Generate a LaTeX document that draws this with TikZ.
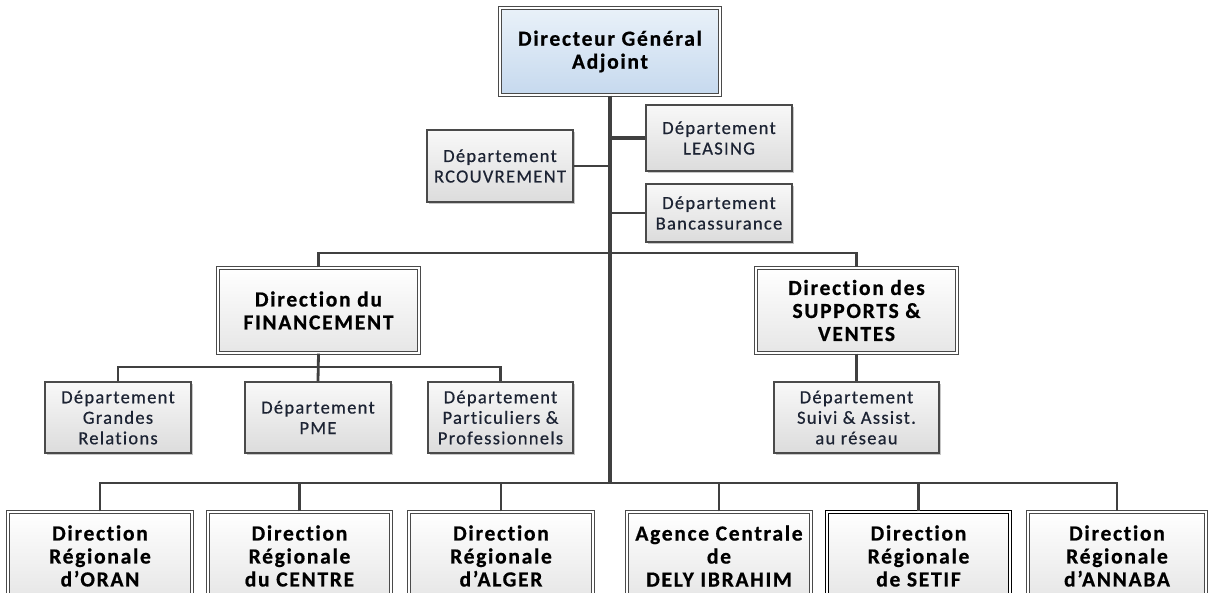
\documentclass[tikz,border=0pt]{standalone}
\usepackage{fontspec}
\setmainfont{Carlito}[LetterSpace=8, Ligatures=NoCommon, BoldFeatures={FakeBold=0.7}]
\newfontfamily\deptfont{Carlito}[LetterSpace=7, FakeBold=0.5, Ligatures=NoCommon]
\usetikzlibrary{shadows}

\definecolor{linegray}{HTML}{404040}
\definecolor{boxline}{HTML}{4A4A4A}
\definecolor{deptTop}{HTML}{F8F8F8}
\definecolor{deptBot}{HTML}{DCDCDC}
\definecolor{dirTop}{HTML}{FFFFFF}
\definecolor{dirBot}{HTML}{E6E6E6}
\definecolor{dgaTop}{HTML}{E9F1F9}
\definecolor{dgaBot}{HTML}{C6D9EE}
\definecolor{deptText}{HTML}{1C2333}

\begin{document}
\begin{tikzpicture}[x=1pt,y=-1pt,
  conn/.style={draw=linegray, line width=2.8pt},
  thinconn/.style={draw=linegray, line width=2pt},
  trunk/.style={draw=linegray, line width=4pt},
  softshadow/.style={drop shadow={shadow xshift=2pt, shadow yshift=-2pt, opacity=0.22, fill=black}},
  deptbox/.style={rectangle, inner sep=0pt, align=center, softshadow,
    draw=boxline, line width=1.3pt, top color=deptTop, bottom color=deptBot,
    text=deptText, font=\deptfont\fontsize{18.5}{20.5}\selectfont},
  dirbox/.style={rectangle, inner sep=0pt, align=center, softshadow,
    draw=boxline, line width=1.1pt, double=white, double distance=1.8pt,
    top color=dirTop, bottom color=dirBot,
    text=black, font=\fontsize{21.5}{23}\selectfont\bfseries},
  dgabox/.style={dirbox, top color=dgaTop, bottom color=dgaBot},
  setifbox/.style={dirbox, draw=black}
]
\useasboundingbox (0,0) rectangle (1208,593);

% top of the hierarchy
\node[dgabox, minimum width=220pt, minimum height=87pt] (dga) at (610,51.5)
  {Directeur Général\\Adjoint};

% departments attached to the trunk
\node[deptbox, minimum width=146pt, minimum height=72pt] (rec) at (500,166)
  {Département\\RCOUVREMENT};
\node[deptbox, minimum width=146pt, minimum height=66pt] (leas) at (719,138)
  {Département\\LEASING};
\node[deptbox, minimum width=146pt, minimum height=58pt] (banc) at (719,213)
  {Département\\Bancassurance};

% directions
\node[dirbox, minimum width=201pt, minimum height=85pt] (fin) at (318.5,310.5)
  {Direction du\\FINANCEMENT};
\node[dirbox, minimum width=201pt, minimum height=85pt] (sup) at (856.5,310.5)
  {Direction des\\SUPPORTS \&\\VENTES};

% departments of the directions
\node[deptbox, minimum width=146pt, minimum height=71pt] (gr) at (118,417.5)
  {Département\\Grandes\\Relations};
\node[deptbox, minimum width=146pt, minimum height=71pt] (pme) at (318,417.5)
  {Département\\PME};
\node[deptbox, minimum width=145pt, minimum height=71pt] (part) at (500.5,417.5)
  {Département\\Particuliers \&\\Professionnels};
\node[deptbox, minimum width=165pt, minimum height=71pt] (suivi) at (856.5,417.5)
  {Département\\Suivi \& Assist.\\au réseau};

% regional network
\node[dirbox, minimum width=184pt, minimum height=88pt] (oran) at (100,556)
  {Direction\\Régionale\\d’ORAN};
\node[dirbox, minimum width=183pt, minimum height=88pt] (centre) at (299.5,556)
  {Direction\\Régionale\\du CENTRE};
\node[dirbox, minimum width=184pt, minimum height=88pt] (alger) at (501,556)
  {Direction\\Régionale\\d’ALGER};
\node[dirbox, minimum width=184pt, minimum height=88pt] (agence) at (719,556)
  {Agence Centrale\\de\\DELY IBRAHIM};
\node[setifbox, minimum width=183pt, minimum height=88pt] (setif) at (918.5,556)
  {Direction\\Régionale\\de SETIF};
\node[dirbox, minimum width=178pt, minimum height=88pt] (annaba) at (1117,556)
  {Direction\\Régionale\\d’ANNABA};

% bus junctions
\coordinate (busA) at (610,253);
\coordinate (busB) at (610,483);
\coordinate (busF) at (318,367);

% connectors
\draw[trunk] (dga.south) -- (busB);
\draw[thinconn] (rec.east) -- (rec.east -| busA);
\draw[trunk] (leas.west) -- (leas.west -| busA);
\draw[thinconn] (banc.west) -- (banc.west -| busA);

\draw[conn] (fin.north) -- (fin.north |- busA) -- (sup.north |- busA) -- (sup.north);
\draw[conn] (fin.south) -- (pme.north);
\draw[conn] (gr.north) -- (gr.north |- busF) -- (part.north |- busF) -- (part.north);
\draw[conn] (sup.south) -- (suivi.north);

\draw[conn] (oran.north) -- (oran.north |- busB) -- (annaba.north |- busB) -- (annaba.north);
\draw[conn] (centre.north) -- (centre.north |- busB);
\draw[conn] (alger.north) -- (alger.north |- busB);
\draw[conn] (agence.north) -- (agence.north |- busB);
\draw[conn] (setif.north) -- (setif.north |- busB);
\end{tikzpicture}
\end{document}
